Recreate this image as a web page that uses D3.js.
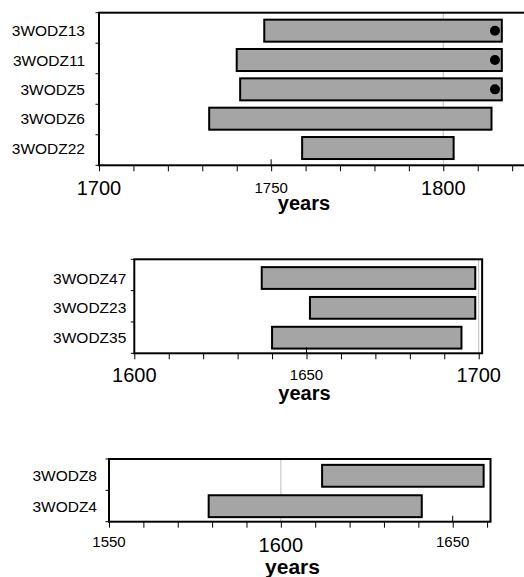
<!DOCTYPE html>
<html>
<head>
<meta charset="utf-8">
<script src="https://cdn.jsdelivr.net/npm/d3@7"></script>
<style>
body { margin: 0; background: #fff; }
svg { display: block; font-family: "Liberation Sans", Arial, sans-serif; }
</style>
</head>
<body>
<div id="chart"></div>
<script>
// panel 1 (1700s)
var topNames = ["3WODZ13", "3WODZ11", "3WODZ5", "3WODZ6", "3WODZ22"];
var topStart = [1748, 1740, 1741, 1732, 1759];
var topEnd = [1817, 1817, 1817, 1814, 1803];
var topDot = [1815, 1815, 1815, null, null];
var topTicks = [1700, 1750, 1800];

// panel 2 (1600s)
var midNames = ["3WODZ47", "3WODZ23", "3WODZ35"];
var midStart = [1637, 1651, 1640];
var midEnd = [1699, 1699, 1695];
var midDot = [null, null, null];
var midTicks = [1600, 1650, 1700];

// panel 3
var botNames = ["3WODZ8", "3WODZ4"];
var botStart = [1612, 1579];
var botEnd = [1659, 1641];
var botDot = [null, null];
var botTicks = [1550, 1600, 1650];

var width = 524, height = 577;

var svg = d3.select("#chart").append("svg")
    .attr("width", width)
    .attr("height", height);

var panels = [
  {names: topNames, start: topStart, end: topEnd, dot: topDot, ticks: topTicks,
   domain: [1700, 1800], range: [99, 443.3], last: 1830, minor: [1700, 1820],
   top: 12.7, bottom: 165.3, bandTop: 16, bandBottom: 162.7, pad: 0.25,
   big: [1700, 1800], grid: [1800], labelGap: 14, smallDy: 27.3, bigDy: 30,
   yearsX: 304, yearsY: 210, yearsSize: 20},
  {names: midNames, start: midStart, end: midEnd, dot: midDot, ticks: midTicks,
   domain: [1600, 1700], range: [134.3, 478.7], last: 1701, minor: [1600, 1700],
   top: 259.3, bottom: 353.3, bandTop: 263.1, bandBottom: 352.6, pad: 0.27,
   big: [1600, 1700], grid: [1700], labelGap: 8, smallDy: 26.5, bigDy: 28.4,
   yearsX: 304.5, yearsY: 399.5, yearsSize: 20},
  {names: botNames, start: botStart, end: botEnd, dot: botDot, ticks: botTicks,
   domain: [1550, 1650], range: [109, 452.7], last: 1661, minor: [1550, 1660],
   top: 459, bottom: 521.7, bandTop: 460.6, bandBottom: 521.4, pad: 0.28,
   big: [1600], grid: [1600], labelGap: 12, smallDy: 24.8, bigDy: 30.6,
   yearsX: 292.5, yearsY: 574, yearsSize: 21}
];

panels.forEach(function(p) {
  var x = d3.scaleLinear().domain(p.domain).range(p.range);
  var y = d3.scaleBand()
      .domain(p.names)
      .range([p.bandTop, p.bandBottom])
      .paddingInner(p.pad)
      .paddingOuter(p.pad / 2);

  var g = svg.append("g");
  var left = x(p.domain[0]), right = x(p.last);

  // light grid line at the century
  g.selectAll(".grid").data(p.grid).enter().append("line")
      .attr("x1", d => x(d)).attr("x2", d => x(d))
      .attr("y1", p.top).attr("y2", p.bottom)
      .attr("stroke", "#bdbdbd").attr("stroke-width", 1);

  var rows = p.names.map(function(n, i) {
    return {name: n, start: p.start[i], end: p.end[i], dot: p.dot[i]};
  });

  g.selectAll(".bar").data(rows).enter().append("rect")
      .attr("x", d => x(d.start))
      .attr("y", d => y(d.name))
      .attr("width", d => x(d.end) - x(d.start))
      .attr("height", y.bandwidth())
      .attr("fill", "#a5a5a5")
      .attr("stroke", "#000")
      .attr("stroke-width", 2);

  g.selectAll(".dot").data(rows.filter(d => d.dot != null)).enter().append("circle")
      .attr("cx", d => x(d.dot))
      .attr("cy", d => y(d.name) + y.bandwidth() / 2)
      .attr("r", 5)
      .attr("fill", "#000");

  // frame
  g.append("rect")
      .attr("x", left).attr("y", p.top)
      .attr("width", right - left).attr("height", p.bottom - p.top)
      .attr("fill", "none").attr("stroke", "#000").attr("stroke-width", 2);

  // minor ticks every 10 years
  var axis = d3.axisBottom(x)
      .tickValues(d3.range(p.minor[0], p.minor[1] + 1, 10))
      .tickSize(6)
      .tickSizeOuter(0)
      .tickFormat("");
  var ax = g.append("g")
      .attr("transform", "translate(0," + p.bottom + ")")
      .call(axis);
  ax.select(".domain").remove();
  ax.selectAll(".tick line").attr("stroke", "#000").attr("stroke-width", 1);

  // labelled half-century ticks cross the axis line
  g.selectAll(".cross").data(p.ticks.filter(t => p.big.indexOf(t) < 0 && t !== p.domain[0]))
    .enter().append("line")
      .attr("x1", d => x(d)).attr("x2", d => x(d))
      .attr("y1", p.bottom - 6).attr("y2", p.bottom)
      .attr("stroke", "#000").attr("stroke-width", 1);

  g.selectAll(".xlab").data(p.ticks).enter().append("text")
      .attr("x", d => x(d))
      .attr("y", d => p.bottom + (p.big.indexOf(d) >= 0 ? p.bigDy : p.smallDy))
      .attr("text-anchor", "middle")
      .attr("font-size", d => p.big.indexOf(d) >= 0 ? 20 : 15)
      .attr("fill", "#000")
      .text(d => d);

  // y ticks at the row boundaries
  var n = p.names.length;
  var step = (p.bottom - p.top) / n;
  g.selectAll(".ytick").data(d3.range(n + 1)).enter().append("line")
      .attr("x1", left - 3.5).attr("x2", left)
      .attr("y1", i => p.top + i * step).attr("y2", i => p.top + i * step)
      .attr("stroke", "#000").attr("stroke-width", 1);

  g.selectAll(".ylab").data(rows).enter().append("text")
      .attr("x", left - p.labelGap)
      .attr("y", d => y(d.name) + y.bandwidth() / 2)
      .attr("dy", "0.36em")
      .attr("text-anchor", "end")
      .attr("font-size", 15.5)
      .attr("fill", "#000")
      .text(d => d.name);

  g.append("text")
      .attr("x", p.yearsX).attr("y", p.yearsY)
      .attr("text-anchor", "middle")
      .attr("font-size", p.yearsSize)
      .attr("font-weight", "bold")
      .text("years");
});
</script>
</body>
</html>
